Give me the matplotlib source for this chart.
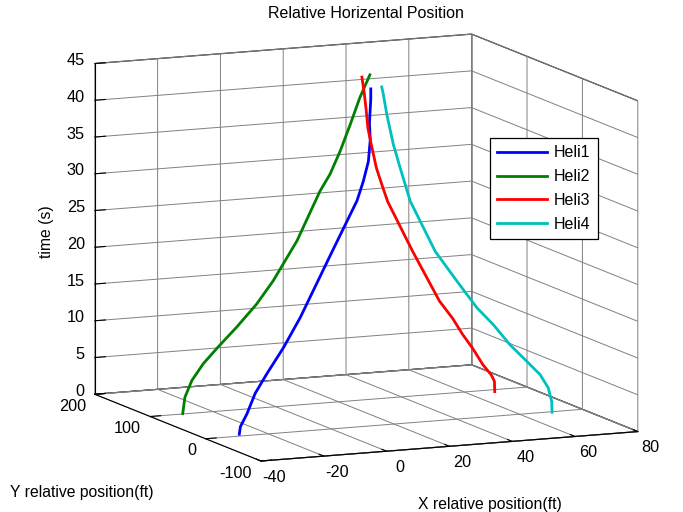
import numpy as np
import matplotlib
matplotlib.use("Agg")
import matplotlib.pyplot as plt
from matplotlib.lines import Line2D

plt.rcParams["font.family"] = ["Liberation Sans", "DejaVu Sans"]
plt.rcParams["axes.unicode_minus"] = False

# --------------------------------------------------------------------------- #
# Data
# --------------------------------------------------------------------------- #
h1_t = [0, 1.0, 2.6, 5.2, 7.6, 10.8, 14.5, 22.8, 29.1, 31.6, 34.2, 37.1, 39.4, 42.6, 44.0]
h1_x = [-28.0, -27.6, -25.1, -22.0, -17.6, -11.3, -5.0, 7.1, 16.4, 18.8, 20.7, 21.4, 21.1, 21.6, 21.6]
h1_y = [7.2, 7.5, 9.8, 12.5, 16.4, 21.9, 27.5, 38.2, 46.4, 48.6, 50.2, 50.8, 50.6, 51.0, 51.0]

h2_t = [0, 2.2, 4.4, 6.6, 8.7, 11.2, 14.1, 17.1, 22.3, 28.8, 31.0, 34.0, 37.5, 41.1, 44.1]
h2_x = [-29.4, -28.7, -26.5, -22.8, -18.1, -12.2, -5.9, -0.6, 7.0, 14.3, 17.5, 20.7, 23.9, 27.0, 30.2]
h2_y = [101.4] * 15

h3_t = [0, 1.4, 2.3, 3.8, 6.1, 8.1, 10.4, 12.9, 20.0, 27.0, 28.9, 31.7, 34.9, 37.2, 39.5, 41.8, 44.2]
h3_x = [68.4, 68.3, 67.3, 64.6, 61.4, 58.2, 55.0, 50.8, 42.2, 34.3, 32.8, 30.7, 29.1, 28.0, 27.5, 26.9, 26.1]
h3_y = [92.5] * 17

h4_t = [0, 1.45, 3.3, 5.1, 6.9, 9.1, 11.8, 14.1, 17.7, 21.7, 28.5, 33.0, 36.2, 40.3, 43.0, 44.0]
h4_x = [70.0, 69.9, 69.0, 66.9, 63.4, 59.1, 54.8, 50.5, 45.3, 39.7, 33.2, 30.6, 28.8, 27.1, 26.2, 25.8]
h4_y = [-1.9, -1.8, -0.7, 2.1, 6.5, 12.1, 17.7, 23.2, 29.9, 37.2, 45.5, 48.9, 51.1, 53.3, 54.4, 55.0]

names = ["Heli1", "Heli2", "Heli3", "Heli4"]
colors = ["#0000ff", "#008000", "#ff0000", "#00bfbf"]

x_ticks = [-40, -20, 0, 20, 40, 60, 80]
y_ticks = [-100, 0, 100, 200]
z_ticks = [0, 5, 10, 15, 20, 25, 30, 35, 40, 45]

W, H = 683, 512
TICK_FS = 11.7
LABEL_FS = 11.3

# --------------------------------------------------------------------------- #
# Figure
# --------------------------------------------------------------------------- #
fig = plt.figure(figsize=(W / 100, H / 100), dpi=100)
ax = fig.add_axes([0, 0, 1, 1], projection="3d")
ax.set_proj_type("ortho")
ax.view_init(elev=10.2, azim=-113.8)
zoom = 1.0
ax.set_box_aspect((1, 1, 0.816), zoom=zoom)

series = [(h1_x, h1_y, h1_t), (h2_x, h2_y, h2_t), (h3_x, h3_y, h3_t), (h4_x, h4_y, h4_t)]
for (xs, ys, ts), name, c in zip(series, names, colors):
    ax.plot(xs, ys, ts, color=c, lw=2, label=name)

ax.set_xlim(-40, 80)
ax.set_ylim(-100, 200)
ax.set_zlim(0, 45)
ax.set_xticks(x_ticks)
ax.set_yticks(y_ticks)
ax.set_zticks(z_ticks)
# tick labels are placed by hand below, MATLAB style
ax.set_xticklabels([])
ax.set_yticklabels([])
ax.set_zticklabels([])

for axis in (ax.xaxis, ax.yaxis, ax.zaxis):
    axis.set_pane_color((1, 1, 1, 1))
    axis.pane.set_edgecolor("#202020")
    axis.pane.set_linewidth(0.9)
    axis._axinfo["grid"]["color"] = "#808080"
    axis._axinfo["grid"]["linewidth"] = 0.7
    axis._axinfo["axisline"]["color"] = "black"
    axis._axinfo["tick"]["color"] = "black"
    axis._axinfo["tick"]["inward_factor"] = 0.0
    axis._axinfo["tick"]["outward_factor"] = 0.35


def corner_px(x, y, z):
    M = ax.get_proj()
    v = M @ np.array([x, y, z, 1.0])
    return ax.transData.transform((v[0] / v[3], v[1] / v[3]))


# fit the projected box onto the reference box corners
fig.canvas.draw()
left = corner_px(-40, 200, 0)
right = corner_px(80, -100, 0)
zoom *= 543.0 / (right[0] - left[0])
ax.set_box_aspect((1, 1, 0.816), zoom=zoom)
fig.canvas.draw()
front = corner_px(-40, -100, 0)
dx = (261 - front[0]) / W
dy = ((H - 461) - front[1]) / H
pos = ax.get_position(original=True)
ax.set_position([pos.x0 + dx, pos.y0 + dy, pos.width, pos.height])
fig.canvas.draw()


def put(px, py, s, fs, **kw):
    # px, py are display pixels (origin bottom-left)
    fig.text(px / W, py / H, s, fontsize=fs, **kw)


for v in x_ticks:
    p = corner_px(v, -100, 0)
    put(p[0] + 13, p[1] - 16, str(v), TICK_FS, ha="center", va="center")
for v in y_ticks:
    p = corner_px(-40, v, 0)
    put(p[0] - 9, p[1] - 12, str(v), TICK_FS, ha="right", va="center")
for v in z_ticks:
    p = corner_px(-40, 200, v)
    put(p[0] - 10, p[1] + 3, str(v), TICK_FS, ha="right", va="center")

fig.text(366 / W, 1 - 14 / H, "Relative Horizental Position", ha="center", va="center", fontsize=11.5)
fig.text(418 / W, 1 - 504 / H, "X relative position(ft)", ha="left", va="center", fontsize=LABEL_FS)
fig.text(10 / W, 1 - 492 / H, "Y relative position(ft)", ha="left", va="center", fontsize=LABEL_FS)
fig.text(47 / W, 1 - 232 / H, "time (s)", ha="center", va="center", rotation=90, fontsize=LABEL_FS)

handles = [Line2D([], [], color=c, lw=2) for c in colors]
leg = fig.legend(handles, names, loc="upper left", bbox_to_anchor=(490 / W, 1 - 138 / H),
                 fontsize=11.5, fancybox=False, framealpha=1, edgecolor="black",
                 handlelength=3.1, handletextpad=0.45, borderpad=0.45, labelspacing=0.56,
                 borderaxespad=0)
leg.get_frame().set_linewidth(0.9)

fig.savefig("out.png", dpi=100)
